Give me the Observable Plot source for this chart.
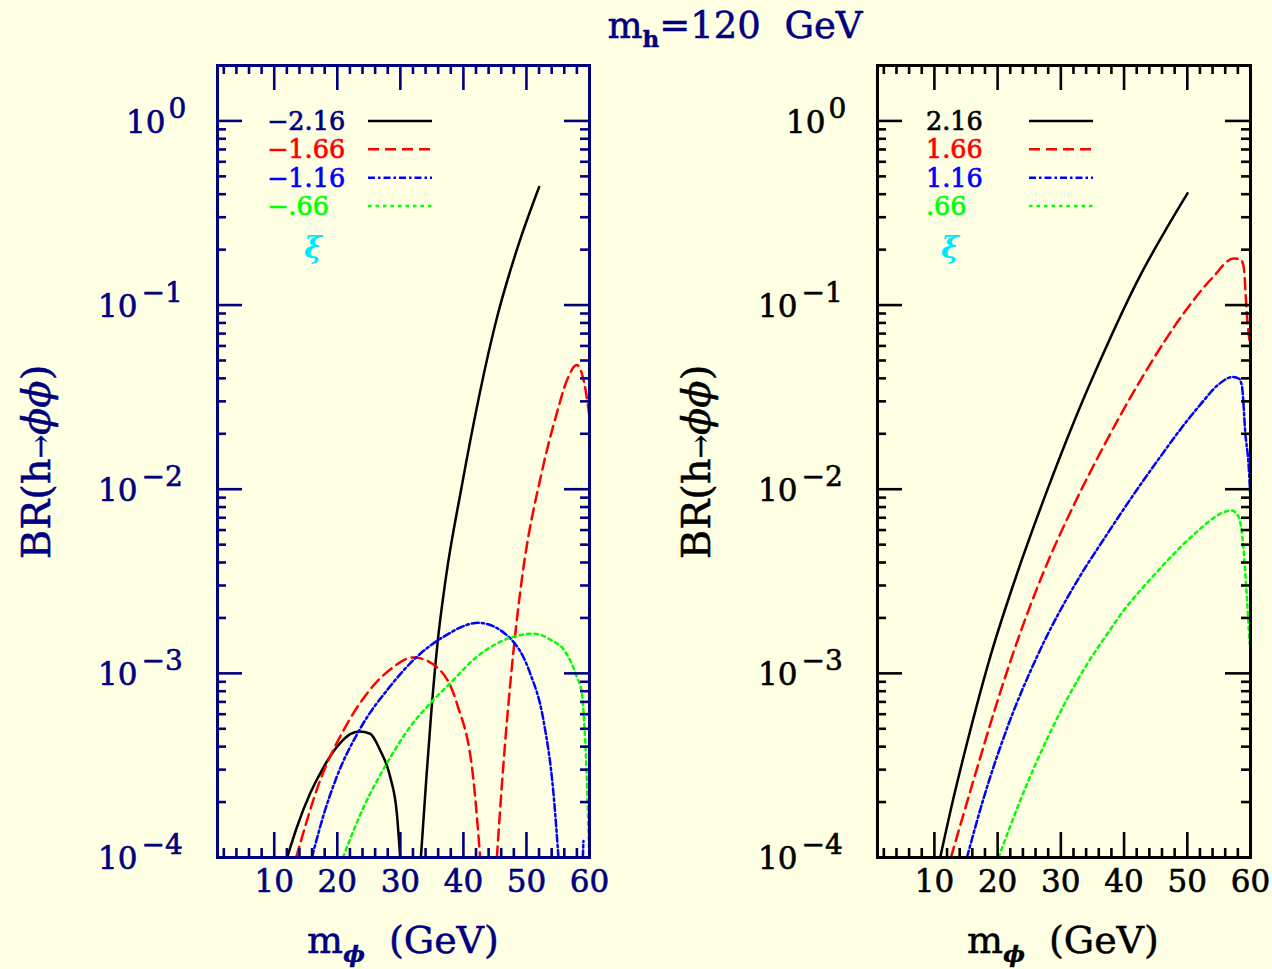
<!DOCTYPE html>
<html><head><meta charset="utf-8">
<script src="https://cdn.jsdelivr.net/npm/d3@7"></script>
<script src="https://cdn.jsdelivr.net/npm/@observablehq/plot@0.6"></script>
<style>
html,body{margin:0;padding:0;background:#ffffe4;}
#page{position:relative;width:1272px;height:969px;overflow:hidden;background:#ffffe4;font-family:"DejaVu Serif",serif;}
#page > svg, #page > figure{position:absolute;top:0;margin:0;}
</style></head><body><div id="page"></div>
<script>
// ---------- data ----------
const navy = "#000080";
const xMajor = [10, 20, 30, 40, 50, 60];
const xMinor = [2,4,6,8,12,14,16,18,22,24,26,28,32,34,36,38,42,44,46,48,52,54,56,58];
const yMajor = [1e-4, 1e-3, 1e-2, 1e-1, 1];
const yExp = ["−4", "−3", "−2", "−1", "0"];
const yMinor = [1e-4, 1e-3, 1e-2, 1e-1].flatMap(p => [2,3,4,5,6,7,8,9].map(k => k * p));
const xTickLabels = ["10", "20", "30", "40", "50", "60"];

const xiLeft = ["−2.16", "−1.66", "−1.16", "−.66"];
const xiRight = ["2.16", "1.66", "1.16", ".66"];
const seriesColors = ["#000000", "#ff0000", "#0000ff", "#00ff00"];
const seriesDash = [null, "11,6", "7,3,2.5,3", "3.5,4"];
const leftLabelColors = [navy, "#ff0000", "#0000ff", "#00ff00"];
const rightLabelColors = ["#000000", "#ff0000", "#0000ff", "#00ff00"];

// left panel (negative xi): [m_phi (GeV), BR], separate pieces
const leftBlack = [
  [[12.05,1.0e-4],[13.59,1.46e-4],[15.70,2.23e-4],[17.81,3.09e-4],[19.93,3.98e-4],[22.04,4.68e-4],[23.47,4.84e-4],[25.21,4.70e-4],[26.80,3.82e-4],[28.39,2.74e-4],[29.45,1.73e-4],[29.97,1.0e-4]],
  [[33.26,1.0e-4],[34.10,2.63e-4],[34.89,6.04e-4],[35.89,1.45e-3],[37.16,3.20e-3],[39.65,1.0e-2],[45.31,8.51e-2],[48.48,0.20],[52.01,0.438]]
];
const leftRed = [
  [[13.48,1.0e-4],[17.29,2.63e-4],[20.98,4.90e-4],[24.69,7.76e-4],[28.39,1.05e-3],[32.08,1.22e-3],[35.79,1.08e-3],[38.96,6.87e-4],[41.60,2.63e-4],[42.66,1.0e-4]],
  [[45.31,1.0e-4],[46.16,2.63e-4],[48.0,1.38e-3],[49.27,3.24e-3],[52.44,1.24e-2],[54.82,2.59e-2],[56.41,3.89e-2],[57.99,4.72e-2],[58.79,4.25e-2],[59.47,3.31e-2],[60,2.47e-2]]
];
const leftBlue = [
  [[15.97,1.0e-4],[18.0,1.78e-4],[19.93,2.75e-4],[23.63,5.01e-4],[28.39,8.51e-4],[32.62,1.23e-3],[36.84,1.58e-3],[42.39,1.88e-3],[47.42,1.55e-3],[50.59,1.0e-3],[52.70,5.56e-4],[54.28,2.24e-4],[55.08,1.0e-4]],
  [[58.94,1.0e-4],[59.04,1.23e-4]]
];
const leftGreen = [
  [[20.89,1.0e-4],[24.15,1.87e-4],[27.86,3.24e-4],[31.56,5.13e-4],[34.73,6.87e-4],[37.90,8.83e-4],[42.13,1.23e-3],[46.35,1.51e-3],[51.11,1.64e-3],[54.0,1.51e-3],[56.1,1.32e-3],[58.0,9.55e-4],[58.79,7.76e-4],[59.15,5.50e-4],[59.42,3.63e-4],[59.67,2.14e-4],[59.96,1.0e-4]]
];
// right panel (positive xi)
const rightBlack = [
  [[10.92,1.0e-4],[13.0,2.09e-4],[15.15,4.17e-4],[18.83,1.23e-3],[23.06,3.47e-3],[28.0,1.02e-2],[32.0,2.29e-2],[36.24,5.01e-2],[42.57,0.145],[46.79,0.263],[50.05,0.405]]
];
const rightRed = [
  [[12.61,1.0e-4],[16.19,2.63e-4],[19.89,6.92e-4],[23.58,1.66e-3],[27.27,3.55e-3],[32.0,8.13e-3],[36.24,1.58e-2],[43.09,4.17e-2],[49.96,9.55e-2],[54.0,0.141],[57.33,0.179],[58.4,0.178],[58.91,0.162],[59.45,8.71e-2],[59.97,5.89e-2]]
];
const rightBlue = [
  [[15.15,1.0e-4],[17.77,2.09e-4],[21.47,5.01e-4],[26.22,1.23e-3],[33.07,3.39e-3],[36.24,5.01e-3],[44.15,1.26e-2],[52.06,2.88e-2],[55.0,3.72e-2],[57.16,4.07e-2],[58.2,3.98e-2],[58.66,3.60e-2],[59.19,2.0e-2],[59.72,1.32e-2],[59.97,9.1e-3]]
];
const rightGreen = [
  [[20.15,1.0e-4],[23.58,2.04e-4],[28.33,4.79e-4],[34.13,1.12e-3],[37.03,1.58e-3],[39.92,2.19e-3],[42.57,2.82e-3],[45.73,3.72e-3],[48.9,4.84e-3],[52.06,6.10e-3],[54.0,6.92e-3],[55.75,7.50e-3],[57.0,7.67e-3],[58.12,7.08e-3],[58.91,4.68e-3],[59.45,2.51e-3],[59.86,1.45e-3]]
];

// ---------- build ----------
const FONT = "DejaVu Serif";
const page = document.getElementById("page");

function rows(pieces) {
  return pieces.flatMap((p, i) => p.map(([m, br]) => ({m, br, piece: i})));
}

function panel({series, axisColor, width, marginLeft, marginRight, left}) {
  const mt = 65, mb = 112, H = 969;
  const fh = H - mt - mb;
  const fw = width - marginLeft - marginRight;
  const labs = yMajor.map((v, i) => ({v, e: yExp[i]}));
  const negExp = labs.filter(d => d.e !== "0");
  const zeroExp = labs.filter(d => d.e === "0");
  const txt = {fill: axisColor, stroke: axisColor, strokeWidth: 0.6, fontFamily: FONT};
  const marks = [];
  series.forEach((pieces, i) => {
    marks.push(Plot.line(rows(pieces), {
      x: "m", y: "br", z: "piece", stroke: seriesColors[i], strokeWidth: 2.5,
      strokeDasharray: seriesDash[i] || undefined, curve: "monotone-x", clip: true
    }));
  });
  const tk = {stroke: axisColor, strokeWidth: 2.6};
  marks.push(
    Plot.ruleX(xMajor, {x: d => d, insetTop: fh - 25, ...tk}),
    Plot.ruleX(xMinor, {x: d => d, insetTop: fh - 9, ...tk}),
    Plot.ruleX(xMajor, {x: d => d, insetBottom: fh - 25, ...tk}),
    Plot.ruleX(xMinor, {x: d => d, insetBottom: fh - 9, ...tk}),
    Plot.ruleY(yMajor, {y: d => d, insetRight: fw - 25, ...tk}),
    Plot.ruleY(yMinor, {y: d => d, insetRight: fw - 9, ...tk}),
    Plot.ruleY(yMajor, {y: d => d, insetLeft: fw - 25, ...tk}),
    Plot.ruleY(yMinor, {y: d => d, insetLeft: fw - 9, ...tk}),
    Plot.frame({stroke: axisColor, strokeWidth: 3}),
    Plot.text(xMajor, {x: d => d, frameAnchor: "bottom", dy: 34, text: (d, i) => xTickLabels[i],
      fontSize: 31, ...txt}),
    Plot.text(negExp, {y: "v", frameAnchor: "left", dx: -80, dy: 2, text: () => "10", textAnchor: "end",
      fontSize: 31, ...txt}),
    Plot.text(negExp, {y: "v", frameAnchor: "left", dx: -76, dy: -12, text: "e", textAnchor: "start",
      fontSize: 28, ...txt}),
    Plot.text(zeroExp, {y: "v", frameAnchor: "left", dx: -52, dy: 2, text: () => "10", textAnchor: "end",
      fontSize: 31, ...txt}),
    Plot.text(zeroExp, {y: "v", frameAnchor: "left", dx: -49, dy: -12, text: "e", textAnchor: "start",
      fontSize: 28, ...txt})
  );
  const svg = Plot.plot({
    width, height: H, marginTop: mt, marginBottom: mb, marginLeft, marginRight,
    x: {domain: [1, 60], axis: null},
    y: {type: "log", domain: [1e-4, 2], axis: null},
    style: {background: "transparent", overflow: "visible"},
    marks
  });
  svg.style.left = left + "px";
  page.appendChild(svg);
}

panel({series: [leftBlack, leftRed, leftBlue, leftGreen], axisColor: navy,
  width: 620, marginLeft: 217, marginRight: 31, left: 0});
panel({series: [rightBlack, rightRed, rightBlue, rightGreen], axisColor: "#000000",
  width: 632, marginLeft: 237, marginRight: 22, left: 640});

// ---------- overlay: title, axis labels, legends ----------
const ov = d3.select(page).append("svg")
  .attr("width", 1272).attr("height", 969)
  .style("position", "absolute").style("left", "0px").style("top", "0px")
  .style("pointer-events", "none")
  .attr("font-family", FONT);

// title
const t = ov.append("text").attr("x", 735).attr("y", 38).attr("text-anchor", "middle")
  .attr("font-size", 37).attr("fill", navy).attr("stroke", navy).attr("stroke-width", 0.5);
t.append("tspan").text("m");
t.append("tspan").attr("dy", 9).attr("font-size", 23).attr("font-weight", "bold").text("h");
t.append("tspan").attr("dy", -9).text("=120\u00a0\u00a0GeV");

function axisLabels(cx, ycx, color) {
  const xl = ov.append("text").attr("x", cx).attr("y", 953).attr("text-anchor", "middle")
    .attr("font-size", 38).attr("fill", color).attr("stroke", color).attr("stroke-width", 0.5);
  xl.append("tspan").text("m");
  xl.append("tspan").attr("dy", 9).attr("font-size", 23).attr("font-style", "italic").attr("font-weight", "bold").text("ϕ");
  xl.append("tspan").attr("dy", -9).text("\u00a0\u00a0(GeV)");
  const yl = ov.append("text").attr("transform", `translate(${ycx},462) rotate(-90)`)
    .attr("text-anchor", "middle").attr("dy", "0.36em").attr("font-size", 40)
    .attr("fill", color).attr("stroke", color).attr("stroke-width", 0.5);
  yl.append("tspan").text("BR(h");
  yl.append("tspan").attr("font-size", 28).text("→");
  yl.append("tspan").attr("font-style", "italic").text("ϕϕ");
  yl.append("tspan").text(")");
}
axisLabels(403, 36, navy);
axisLabels(1063, 696, "#000000");

function legend(textX, lineX0, lineX1, xiX, labels, colors) {
  const ys = [121, 149.3, 177.7, 206];
  labels.forEach((lab, i) => {
    ov.append("text").attr("x", textX).attr("y", ys[i]).attr("dy", "0.36em")
      .attr("font-size", 25.5).attr("fill", colors[i]).attr("stroke", colors[i]).attr("stroke-width", 0.7)
      .text(lab);
    ov.append("line").attr("x1", lineX0).attr("x2", lineX1).attr("y1", ys[i]).attr("y2", ys[i])
      .attr("stroke", seriesColors[i]).attr("stroke-width", 2.5)
      .attr("stroke-dasharray", seriesDash[i] || null);
  });
  ov.append("text").attr("x", xiX).attr("y", 247).attr("dy", "0.36em").attr("text-anchor", "middle")
    .attr("font-size", 30).attr("font-weight", "bold").attr("font-style", "italic")
    .attr("fill", "#00e8ff").text("ξ");
}
legend(267, 368, 432, 313, xiLeft, leftLabelColors);
legend(926, 1029, 1093, 950, xiRight, rightLabelColors);
</script></body></html>
